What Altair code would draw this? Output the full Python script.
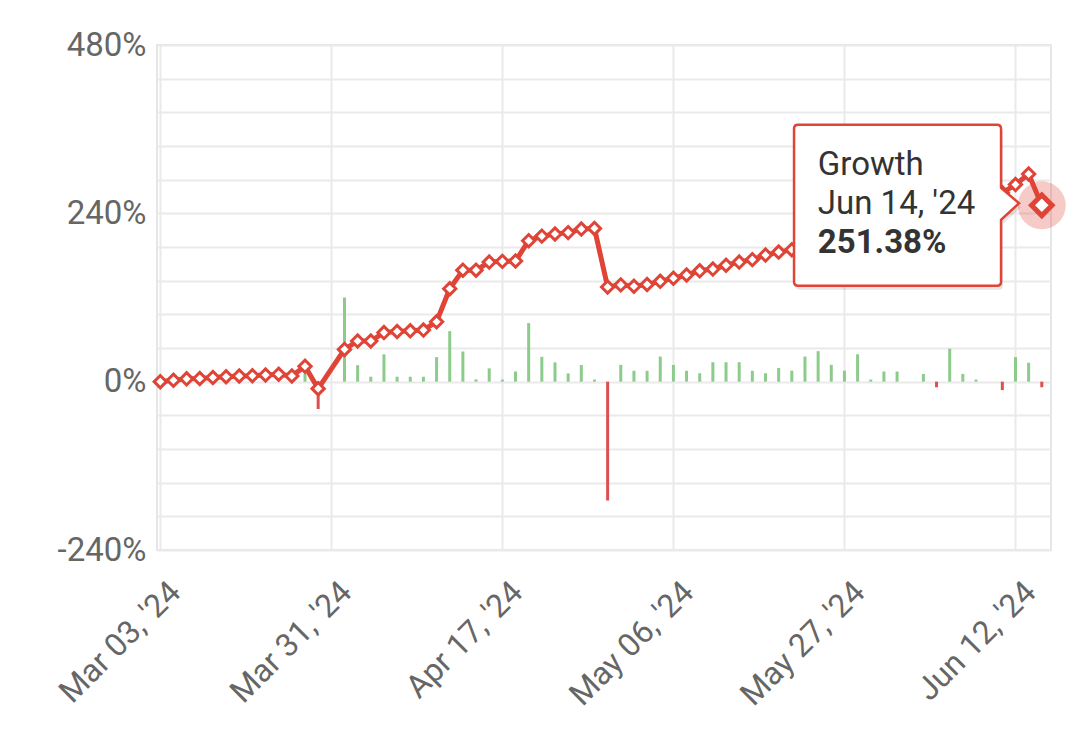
import json
import altair as alt
import pandas as pd

# ---- data ----
dates = [
    "Mar 03, '24", "Mar 05, '24", "Mar 07, '24", "Mar 09, '24", "Mar 11, '24", "Mar 13, '24",
    "Mar 15, '24", "Mar 17, '24", "Mar 19, '24", "Mar 21, '24", "Mar 24, '24", "Mar 27, '24",
    "Mar 29, '24", "Mar 31, '24", "Apr 01, '24", "Apr 02, '24", "Apr 03, '24", "Apr 04, '24",
    "Apr 05, '24", "Apr 08, '24", "Apr 09, '24", "Apr 10, '24", "Apr 11, '24", "Apr 12, '24",
    "Apr 15, '24", "Apr 16, '24", "Apr 17, '24", "Apr 18, '24", "Apr 19, '24", "Apr 22, '24",
    "Apr 23, '24", "Apr 24, '24", "Apr 25, '24", "Apr 26, '24", "Apr 29, '24", "Apr 30, '24",
    "May 01, '24", "May 02, '24", "May 03, '24", "May 06, '24", "May 07, '24", "May 08, '24",
    "May 09, '24", "May 10, '24", "May 13, '24", "May 14, '24", "May 15, '24", "May 16, '24",
    "May 17, '24", "May 20, '24", "May 21, '24", "May 22, '24", "May 27, '24", "May 28, '24",
    "May 29, '24", "May 30, '24", "May 31, '24", "Jun 02, '24", "Jun 03, '24", "Jun 04, '24",
    "Jun 05, '24", "Jun 06, '24", "Jun 07, '24", "Jun 10, '24", "Jun 11, '24", "Jun 12, '24",
    "Jun 13, '24", "Jun 14, '24",
]

growth = [
    0, 2, 4, 4.5, 6, 7, 8, 8.5, 9.5, 10.5, 8, 22, -10, None,
    46, 58, 58, 70, 71.5, 72.5, 73.5, 85.5, 132.5, 159, 159, 170.5, 171.5,
    172, 201, 207.5, 210.5, 212.5, 217.5, 218.5, 135, 138, 136, 138.5, 143,
    147.5, 152, 158, 160.5, 166, 170.5, 174, 180.5, 184.7, 188,
    199.4, 213.5, 221.2, 226.2, 239.2, 240.4, 245.4, 250.4, 250.4, 254.2,
    252, 267.6, 271.4, 272.6, 272.6, 269.2, 281, 296, 251.38,
]

daily = [
    0, 0, 0, 0, 0, 0, 0, 0, 0, 0, 0, 11, -39, None,
    120, 23.5, 7, 39, 7, 7, 7, 35, 72, 43, 3.3, 19, 3,
    14.5, 83.5, 35.5, 27.5, 11.7, 23.7, 3, -169.5, 23.9, 15.5, 15.5, 35.8,
    23.9, 15.5, 12, 27.7, 27.7, 27.7, 15.5, 12, 19.6, 15.7,
    35.8, 43.5, 24, 15.7, 39, 3, 14.5, 14.5, 0, 11,
    -8, 47, 11, 3, 0, -12, 35, 27, -8,
]

x_ticks = [0, 13, 26, 39, 52, 65]
y_ticks = [-240, -192, -144, -96, -48, 0, 48, 96, 144, 192, 240, 288, 336, 384, 432, 480]
series_name = "Growth"

RED = "#DF4437"
GREEN = "#8CCB8A"
BAR_RED = "#DD5050"
GRID = "#EAEAEA"
LABEL = "#666666"
FONT = "Roboto"

df = pd.DataFrame({
    "idx": list(range(len(dates))),
    "date": dates,
    "growth": growth,
    "daily": daily,
})
last_df = df.iloc[[-1]].copy()

x_label_expr = json.dumps(dates) + "[datum.value]"

x_axis = alt.Axis(
    values=x_ticks, labelExpr=x_label_expr, title=None, ticks=False, domain=False,
    grid=True, gridColor=GRID, gridWidth=2,
    labelAngle=-45, labelAlign="right", labelBaseline="top",
    labelFontSize=32, labelColor=LABEL, labelFont=FONT, labelPadding=26, labelOffset=4,
    labelOverlap=False,
)
y_axis = alt.Axis(
    values=y_ticks, labelExpr="datum.value % 240 == 0 ? datum.value + '%' : ''",
    title=None, ticks=False, domain=False, grid=True, gridColor=GRID, gridWidth=2,
    labelFontSize=33, labelColor=LABEL, labelFont=FONT, labelPadding=11,
    labelOverlap=False,
)
x_scale = alt.Scale(domain=[-0.25, 67.7], nice=False, zero=False)
y_scale = alt.Scale(domain=[-240, 480], nice=False, zero=False)

X = alt.X("idx:Q", scale=x_scale, axis=x_axis)
Y = alt.Y("growth:Q", scale=y_scale, axis=y_axis)

base = alt.Chart(df)

bars = base.mark_rule(strokeWidth=3).encode(
    x=X,
    y=alt.Y("daily:Q", scale=y_scale, axis=y_axis),
    y2=alt.datum(0),
    color=alt.condition("datum.daily < 0", alt.value(BAR_RED), alt.value(GREEN)),
).transform_filter("isValid(datum.daily)")

valid = base.transform_filter("isValid(datum.growth)")

line = valid.mark_line(color=RED, strokeWidth=5, strokeJoin="round").encode(x=X, y=Y)

points = valid.mark_point(
    shape="diamond", filled=True, fill="white", stroke=RED, strokeWidth=3, size=150, opacity=1
).encode(x=X, y=Y)

# tooltip callout anchored at the last data point
callout_path = (
    "M -0.975 -0.322 L -0.179 -0.322 Q -0.163 -0.322 -0.163 -0.306 L -0.163 -0.07 "
    "L -0.091 -0.008 L -0.163 0.058 L -0.163 0.306 Q -0.163 0.322 -0.179 0.322 "
    "L -0.975 0.322 Q -0.991 0.322 -0.991 0.306 L -0.991 -0.306 Q -0.991 -0.322 -0.975 -0.322 Z"
)
tip = alt.Chart(last_df)
shadow = tip.mark_point(
    shape=callout_path, size=250000, filled=True, fill="#000000", opacity=0.10,
    strokeWidth=0, xOffset=2, yOffset=4,
).encode(x=X, y=Y)
box = tip.mark_point(
    shape=callout_path, size=250000, filled=True, fill="white", stroke=RED,
    strokeWidth=2.5, opacity=1,
).encode(x=X, y=Y)

t1 = tip.mark_text(
    text=series_name, align="left", baseline="middle", dx=-224, dy=-40,
    font=FONT, fontSize=33, color="#333333",
).encode(x=X, y=Y)
t2 = tip.mark_text(
    align="left", baseline="middle", dx=-224, dy=-1,
    font=FONT, fontSize=33, color="#333333",
).encode(x=X, y=Y, text="date:N")
t3 = tip.mark_text(
    align="left", baseline="middle", dx=-224, dy=38,
    font=FONT, fontSize=33, fontWeight="bold", color="#333333",
).transform_calculate(lbl="format(datum.growth, '.2f') + '%'").encode(x=X, y=Y, text="lbl:N")

halo = tip.mark_point(
    shape="circle", filled=True, fill=RED, opacity=0.28, size=2300, strokeWidth=0
).encode(x=X, y=Y)
big = tip.mark_point(
    shape="diamond", filled=True, fill="white", stroke=RED, strokeWidth=5, size=420, opacity=1
).encode(x=X, y=Y)

chart = alt.layer(
    bars, line, points, shadow, box, t1, t2, t3, halo, big
).properties(
    width=894, height=505,
    autosize=alt.AutoSizeParams(type="none"),
    padding={"left": 157, "top": 45, "right": 28, "bottom": 198},
    background="white",
).configure_view(stroke="#E6E6E6", strokeWidth=2)

chart.save("out.html", embed_options={"renderer": "svg", "actions": False})
